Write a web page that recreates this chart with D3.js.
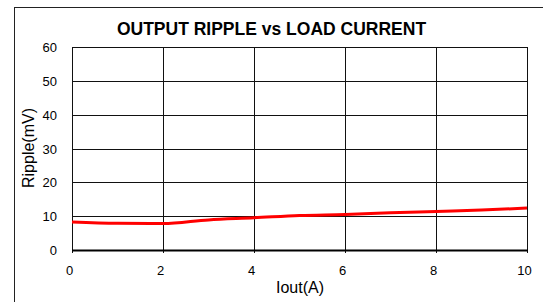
<!DOCTYPE html>
<html>
<head>
<meta charset="utf-8">
<script src="https://cdn.jsdelivr.net/npm/d3@7"></script>
<style>
  body { margin: 0; background: #fff; }
  svg text { font-family: Arial, "Liberation Sans", sans-serif; fill: #000; }
</style>
</head>
<body>
<svg id="chart" width="543" height="302"></svg>
<script>
// load current in A, ripple in mV
const currents = [0, 1, 2, 3, 4, 5, 6, 7, 8, 9, 10];
const ripple = [8.3, 7.9, 7.8, 8.9, 9.5, 10.2, 10.5, 11.0, 11.4, 11.8, 12.4];
const xTicks = [0, 2, 4, 6, 8, 10];
const yTicks = [0, 10, 20, 30, 40, 50, 60];

const svg = d3.select('#chart');
const plotL = 72, plotR = 527, plotT = 47, plotB = 250;

// outer frame
svg.append('rect')
  .attr('x', 14.5).attr('y', 7.5)
  .attr('width', 540).attr('height', 310)
  .attr('fill', 'none').attr('stroke', '#222').attr('stroke-width', 1);

const x = d3.scaleLinear().domain([0, 10]).range([plotL, plotR]);
const y = d3.scaleLinear().domain([0, 60]).range([plotB, plotT]);

// grid
svg.append('g')
  .selectAll('line')
  .data(xTicks)
  .join('line')
  .attr('x1', d => Math.round(x(d)) + 0.5).attr('x2', d => Math.round(x(d)) + 0.5)
  .attr('y1', plotT).attr('y2', plotB + 3)
  .attr('stroke', '#111').attr('stroke-width', 1);

svg.append('g')
  .selectAll('line')
  .data(yTicks)
  .join('line')
  .attr('x1', plotL).attr('x2', plotR)
  .attr('y1', d => Math.round(y(d)) + 0.5).attr('y2', d => Math.round(y(d)) + 0.5)
  .attr('stroke', '#111').attr('stroke-width', 1);

// bottom axis heavier
svg.append('line')
  .attr('x1', plotL).attr('x2', plotR + 1)
  .attr('y1', Math.round(y(0)) + 0.5).attr('y2', Math.round(y(0)) + 0.5)
  .attr('stroke', '#000').attr('stroke-width', 2);

// tick labels
svg.append('g')
  .selectAll('text')
  .data(yTicks)
  .join('text')
  .attr('x', 57).attr('y', d => y(d) + 5)
  .attr('text-anchor', 'end')
  .attr('font-size', 13)
  .text(d => d);

svg.append('g')
  .selectAll('text')
  .data(xTicks)
  .join('text')
  .attr('x', d => x(d) - 2.5).attr('y', 275)
  .attr('text-anchor', 'middle')
  .attr('font-size', 13)
  .text(d => d);

// data line
const line = d3.line()
  .x((d, i) => x(currents[i]))
  .y(d => y(d))
  .curve(d3.curveMonotoneX);

svg.append('path')
  .datum(ripple)
  .attr('d', line)
  .attr('fill', 'none')
  .attr('stroke', '#ff0000')
  .attr('stroke-width', 3);

// titles
svg.append('text')
  .attr('x', 271.5).attr('y', 35)
  .attr('text-anchor', 'middle')
  .attr('font-size', 17.5).attr('font-weight', 'bold')
  .text('OUTPUT RIPPLE vs LOAD CURRENT');

svg.append('text')
  .attr('x', 300).attr('y', 293)
  .attr('text-anchor', 'middle')
  .attr('font-size', 16)
  .text('Iout(A)');

svg.append('text')
  .attr('transform', `translate(34, 148) rotate(-90)`)
  .attr('text-anchor', 'middle')
  .attr('font-size', 16)
  .text('Ripple(mV)');
</script>
</body>
</html>
